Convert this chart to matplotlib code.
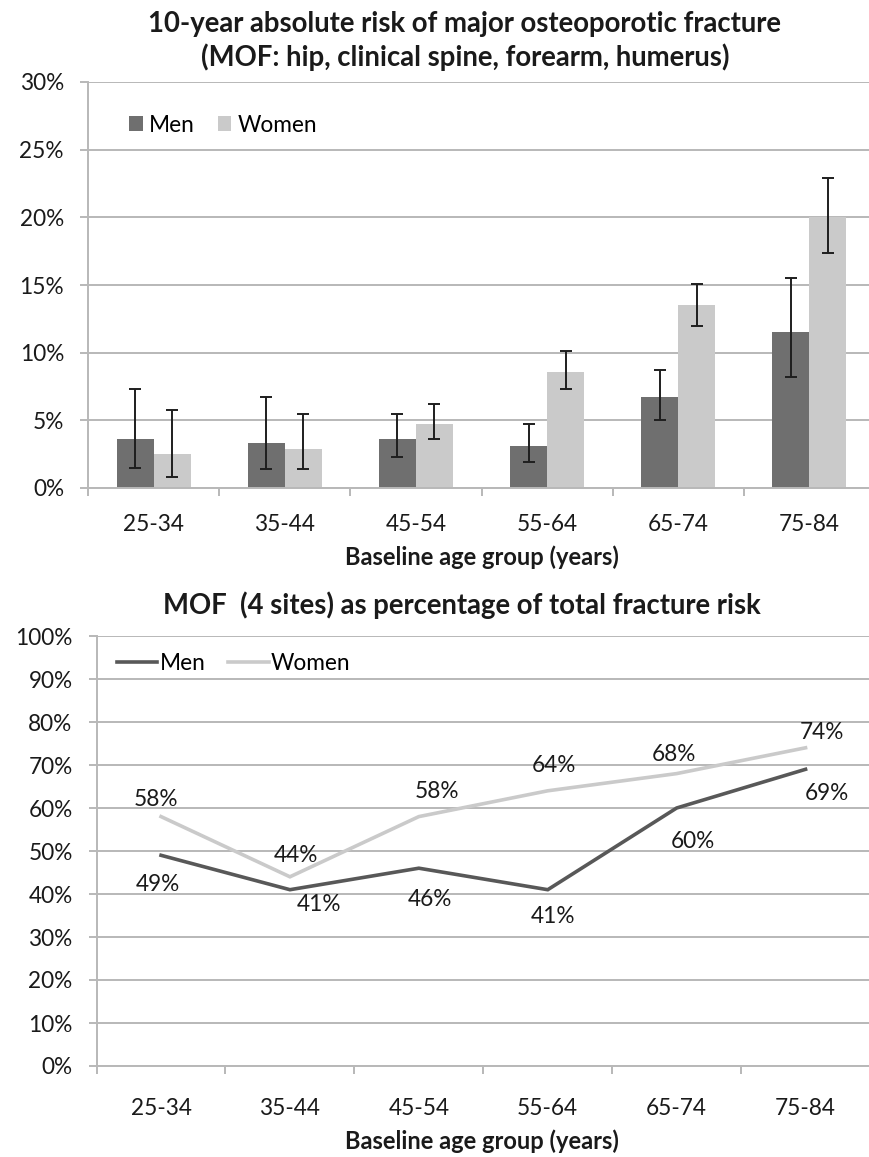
import numpy as np
import matplotlib
matplotlib.use("Agg")
import matplotlib.pyplot as plt
from matplotlib.ticker import FuncFormatter

plt.rcParams['font.family'] = ['Lato', 'DejaVu Sans']

# age groups shared by both panels
age_groups = ['25-34', '35-44', '45-54', '55-64', '65-74', '75-84']

# 10-year absolute MOF risk (%) with confidence limits
men_risk = [3.6, 3.3, 3.6, 3.1, 6.7, 11.5]
men_lo = [1.5, 1.4, 2.3, 1.9, 5.0, 8.2]
men_hi = [7.3, 6.7, 5.5, 4.7, 8.7, 15.5]
women_risk = [2.5, 2.9, 4.7, 8.6, 13.5, 20.0]
women_lo = [0.8, 1.4, 3.6, 7.3, 12.0, 17.4]
women_hi = [5.8, 5.5, 6.2, 10.1, 15.1, 22.9]

# MOF share of total fracture risk (%)
men_share = [49, 41, 46, 41, 60, 69]
women_share = [58, 44, 58, 64, 68, 74]

# label offsets in pixels (dx, dy; dy positive = down)
men_lab_off = [(-3, 29), (29, 15), (11, 31), (5, 27), (16, 33), (21, 24)]
women_lab_off = [(-5, -17), (6, -21), (18, -25), (6, -25), (-3, -19), (16, -15)]

dark = '#6f6f6f'
light = '#cacaca'
grid_c = '#b8b8b8'
txt_c = '#1a1a1a'
W, H = 869, 1157
px = 0.72  # points per pixel at dpi 100
fs = 16.3

fig = plt.figure(figsize=(W / 100, H / 100), dpi=100)

def style_axes(ax, x_pad):
    for s in ['top', 'right']:
        ax.spines[s].set_visible(False)
    for s in ['left', 'bottom']:
        ax.spines[s].set_color(grid_c)
        ax.spines[s].set_linewidth(1.4)
    ax.yaxis.grid(True, color=grid_c, linewidth=1.4)
    ax.set_axisbelow(True)
    ax.set_xlim(0, 6)
    ax.set_xticks(np.arange(7))
    ax.set_xticklabels([''] * 7)
    ax.set_xticks(np.arange(6) + 0.5, minor=True)
    ax.set_xticklabels(age_groups, minor=True, fontsize=fs, color=txt_c)
    ax.tick_params(axis='x', which='major', length=8 * px, width=1.4, color=grid_c)
    ax.tick_params(axis='x', which='minor', length=0, pad=x_pad)
    ax.tick_params(axis='y', length=8 * px, width=1.4, color=grid_c, pad=16 * px,
                   labelsize=fs, labelcolor=txt_c)
    ax.yaxis.set_major_formatter(FuncFormatter(lambda v, p: f'{v:.0f}%'))

# ---- top panel: bars with error bars ----
ax1 = fig.add_axes([88 / W, 1 - 488 / H, (875 - 88) / W, (488 - 82) / H])
x = np.arange(6) + 0.5
bw = 0.282
men_risk_a = np.array(men_risk)
women_risk_a = np.array(women_risk)
ax1.bar(x - bw / 2, men_risk, bw, color=dark, label='Men')
ax1.bar(x + bw / 2, women_risk, bw, color=light, label='Women')
ax1.errorbar(x - bw / 2, men_risk,
             yerr=[men_risk_a - np.array(men_lo), np.array(men_hi) - men_risk_a],
             fmt='none', ecolor='#1e1e1e', elinewidth=1.4, capsize=4.3, capthick=1.4)
ax1.errorbar(x + bw / 2, women_risk,
             yerr=[women_risk_a - np.array(women_lo), np.array(women_hi) - women_risk_a],
             fmt='none', ecolor='#1e1e1e', elinewidth=1.4, capsize=4.3, capthick=1.4)
ax1.set_ylim(0, 30)
ax1.set_yticks(np.arange(0, 31, 5))
style_axes(ax1, 26 * px)
ax1.legend(loc='center left', bbox_to_anchor=(0.052, 0.894), ncol=2, frameon=False,
           fontsize=fs, handlelength=0.6, handleheight=0.6, handletextpad=0.3,
           columnspacing=1.0, borderaxespad=0, borderpad=0)

fig.text(0.535, 1 - 24 / H, '10-year absolute risk of major osteoporotic fracture',
         ha='center', va='center', fontsize=19.8, fontweight='bold', color=txt_c)
fig.text(0.535, 1 - 57 / H, '(MOF: hip, clinical spine, forearm, humerus)',
         ha='center', va='center', fontsize=19.8, fontweight='bold', color=txt_c)
fig.text(482 / W, 1 - 557 / H, 'Baseline age group (years)',
         ha='center', va='center', fontsize=17, fontweight='bold', color=txt_c)

# ---- bottom panel: share of total fracture risk ----
ax2 = fig.add_axes([96.6 / W, 1 - 1066 / H, (870 - 96.6) / W, 430 / H])
ax2.plot(x, men_share, color='#585858', linewidth=2.6, label='Men',
         solid_joinstyle='miter')
ax2.plot(x, women_share, color=light, linewidth=2.6, label='Women',
         solid_joinstyle='miter')
for xi, v, (dx, dy) in zip(x, women_share, women_lab_off):
    ax2.annotate(f'{v}%', (xi, v), xytext=(dx * px, -dy * px), textcoords='offset points',
                 ha='center', va='center', fontsize=fs, color=txt_c)
for xi, v, (dx, dy) in zip(x, men_share, men_lab_off):
    ax2.annotate(f'{v}%', (xi, v), xytext=(dx * px, -dy * px), textcoords='offset points',
                 ha='center', va='center', fontsize=fs, color=txt_c)
ax2.set_ylim(0, 100)
ax2.set_yticks(np.arange(0, 101, 10))
style_axes(ax2, 32 * px)
ax2.legend(loc='center left', bbox_to_anchor=(0.026, 0.937), ncol=2, frameon=False,
           fontsize=fs, handlelength=1.8, handletextpad=0.1,
           columnspacing=1.0, borderaxespad=0, borderpad=0)

fig.text(462 / W, 1 - 605 / H, 'MOF  (4 sites) as percentage of total fracture risk',
         ha='center', va='center', fontsize=19.8, fontweight='bold', color=txt_c)
fig.text(482 / W, 1 - 1141 / H, 'Baseline age group (years)',
         ha='center', va='center', fontsize=17, fontweight='bold', color=txt_c)

fig.savefig('out.png', dpi=100, facecolor='white')
